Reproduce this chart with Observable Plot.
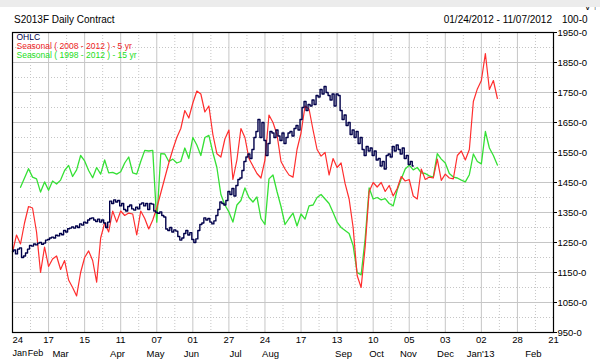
<!DOCTYPE html>
<html><head><meta charset="utf-8">
<script src="https://cdn.jsdelivr.net/npm/d3@7"></script>
<script src="https://cdn.jsdelivr.net/npm/@observablehq/plot@0.6"></script>
<style>
body{margin:0;background:#fff;font-family:"Liberation Sans",Arial,sans-serif;}
#wrap{position:relative;width:600px;height:362px;overflow:hidden;background:#fff}
#band{position:absolute;left:0;top:0;width:600px;height:7px;background:#ececec}
.hdr{position:absolute;font-size:10px;color:#000;line-height:10px;white-space:nowrap}
#chart{position:absolute;left:0;top:0}
</style></head><body>
<div id="wrap">
<div id="chart"></div>
<div id="band"></div>
<div class="hdr" style="left:14px;top:15px">S2013F Daily Contract</div>
<div class="hdr" style="right:48px;top:15px">01/24/2012 - 11/07/2012</div>
<div class="hdr" style="left:562px;top:15px">100-0</div>
</div>
<script>
// x = trading-day index from 24 Jan 2012; one tick label every 18 sessions
const dayLabels = ["24","17","15","11","07","01","27","24","17","13","10","05","03","02","28","21"];
const monthLabels = ["Jan","Feb","Mar","Apr","May","Jun","Jul","Aug","Sep","Oct","Nov","Dec","Jan'13","Feb"];
const monthPos = [0,7.6,24,52.4,71.4,89.3,111.3,128.8,165.2,181.7,197.6,216.1,233.6,260];
const yTicks = [950,1050,1150,1250,1350,1450,1550,1650,1750,1850,1950];

// OHLC closes, one per session (index 0 .. 200)
const ohlcClose = [
1220,1225,1212,1228,1232,1200,1205,1215,1228,1240,
1238,1245,1242,1248,1250,1244,1248,1258,1260,1265,
1268,1265,1274,1272,1280,1276,1290,1285,1296,1298,
1302,1298,1305,1300,1312,1308,1318,1315,1325,1330,
1332,1325,1320,1328,1318,1325,1315,1300,1318,1388,
1380,1392,1385,1390,1372,1380,1360,1355,1370,1375,
1362,1358,1368,1362,1378,1382,1372,1380,1360,1380,
1378,1355,1350,1347,1352,1340,1335,1295,1290,1300,
1285,1292,1288,1270,1258,1265,1280,1290,1275,1283,
1260,1250,1262,1290,1310,1315,1332,1325,1330,1318,
1312,1322,1340,1360,1385,1380,1375,1390,1420,1410,
1430,1405,1440,1460,1465,1490,1520,1535,1545,1530,
1560,1600,1620,1660,1600,1650,1590,1540,1580,1620,
1615,1600,1625,1605,1590,1615,1580,1600,1615,1620,
1605,1630,1640,1625,1660,1700,1720,1690,1710,1705,
1725,1710,1740,1735,1760,1745,1770,1750,1740,1725,
1745,1705,1745,1740,1690,1660,1675,1640,1650,1610,
1625,1600,1620,1580,1600,1560,1540,1570,1555,1565,
1540,1555,1525,1530,1505,1520,1495,1540,1545,1535,
1570,1555,1575,1560,1545,1565,1530,1540,1510,1520,
1505];

// Seasonal 5 yr, every 2nd session from index 0
const red5 = [
1218,1275,1245,1315,1370,1365,1285,1150,1235,1170,
1195,1205,1160,1190,1125,1100,1072,1150,1200,1222,
1190,1118,1265,1315,1285,1355,1318,1355,1340,1348,
1345,1275,1355,1330,1295,1325,1365,1415,1465,1515,
1560,1600,1630,1690,1665,1715,1755,1745,1685,1705,
1610,1546,1535,1595,1625,1460,1525,1630,1600,1530,
1505,1480,1465,1525,1675,1650,1610,1520,1495,1475,
1468,1560,1615,1705,1695,1625,1560,1538,1550,1475,
1530,1500,1515,1446,1395,1300,1140,1100,1235,1420,
1450,1435,1450,1420,1440,1405,1430,1470,1455,1460,
1405,1395,1495,1460,1468,1465,1528,1457,1478,1465,
1462,1540,1555,1525,1560,1720,1762,1790,1880,1760,
1790,1730];

// Seasonal 15 yr, every 2nd session from index 4
const green15 = [
1434,1465,1496,1468,1462,1418,1452,1424,1455,1445,
1458,1490,1507,1470,1492,1540,1522,1490,1466,1500,
1478,1525,1482,1484,1478,1486,1515,1535,1482,1478,
1520,1557,1555,1557,1318,1546,1545,1520,1528,1515,
1520,1565,1530,1600,1575,1540,1600,1607,1550,1500,
1410,1375,1352,1318,1375,1390,1432,1400,1385,1402,
1330,1310,1462,1475,1420,1370,1310,1330,1348,1305,
1345,1328,1372,1375,1400,1410,1395,1380,1350,1318,
1300,1290,1280,1240,1150,1142,1262,1432,1395,1400,
1392,1396,1380,1372,1425,1462,1495,1508,1492,1500,
1482,1480,1472,1468,1546,1528,1515,1480,1468,1465,
1458,1452,1476,1545,1520,1512,1620,1565,1540,1508];

const navy = "#00004a", red = "#ff2e2e", green = "#35e035";
const ohlc = ohlcClose.map((v, i) => ({i, v}));
const s5 = red5.map((v, k) => ({i: 2 * k, v}));
const s15 = green15.map((v, k) => ({i: 4 + 2 * k, v}));
const major = d3.range(0, 271, 18);
const minor = d3.range(9, 270, 18);
const yMajor = d3.range(1050, 1900, 100);
const yMinor = d3.range(1000, 1950, 100);
const grid = "#c6c6c6";
const fs = 9.5;

const chart = Plot.plot({
  width: 600, height: 362,
  marginLeft: 12, marginRight: 47, marginTop: 32, marginBottom: 30,
  x: {domain: [0, 270], axis: null},
  y: {domain: [950, 1950], axis: null},
  style: {fontFamily: "Liberation Sans, Arial, sans-serif", fontSize: "9px", background: "transparent", color: "#000", overflow: "visible"},
  marks: [
    Plot.ruleX(minor, {stroke: grid, strokeDasharray: "1,2"}),
    Plot.ruleX(major, {stroke: grid}),
    Plot.ruleY(yMinor, {stroke: grid, strokeDasharray: "1,2"}),
    Plot.ruleY(yMajor, {stroke: grid}),
    Plot.line(s15, {x: "i", y: "v", stroke: green, strokeWidth: 1.3}),
    Plot.line(s5, {x: "i", y: "v", stroke: red, strokeWidth: 1.2}),
    Plot.line(ohlc, {x: "i", y: "v", curve: "step", stroke: navy, strokeWidth: 1.4}),
    Plot.frame({stroke: "#000", strokeWidth: 1.2}),
    Plot.axisY({anchor: "right", ticks: yTicks, tickFormat: d => `${d}-0`, tickSize: 3, tickPadding: 1, fontSize: fs, stroke: "#000"}),
    Plot.text([0], {x: d => d, text: () => dayLabels[0], frameAnchor: "bottom", dy: 7, textAnchor: "start", lineAnchor: "middle", fontSize: fs}),
    Plot.text(major.slice(1), {x: d => d, text: (d, i) => dayLabels[i + 1], frameAnchor: "bottom", dy: 7, lineAnchor: "middle", fontSize: fs}),
    Plot.text(monthPos.slice(0, 2), {x: d => d, text: (d, i) => monthLabels[i], frameAnchor: "bottom", dy: 21, textAnchor: "start", lineAnchor: "middle", fontSize: 9}),
    Plot.text(monthPos.slice(2), {x: d => d, text: (d, i) => monthLabels[i + 2], frameAnchor: "bottom", dy: 21, lineAnchor: "middle", fontSize: fs}),
    Plot.text(["OHLC"], {frameAnchor: "top-left", dx: 4, dy: 1.5, lineAnchor: "top", fill: navy, fontSize: 8.5}),
    Plot.text(["Seasonal ( 2008 - 2012 ) - 5 yr"], {frameAnchor: "top-left", dx: 4, dy: 10.5, lineAnchor: "top", fill: "#ee1c1c", fontSize: 8.5}),
    Plot.text(["Seasonal ( 1998 - 2012 ) - 15 yr"], {frameAnchor: "top-left", dx: 4, dy: 19.5, lineAnchor: "top", fill: "#22dd22", fontSize: 8.5})
  ]
});
document.getElementById("chart").appendChild(chart);
</script>
</body></html>
